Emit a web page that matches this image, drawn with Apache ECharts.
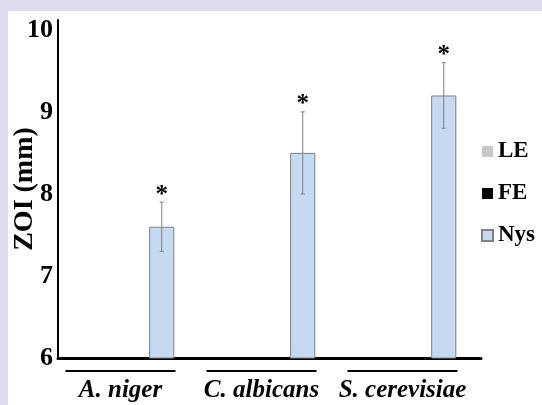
<!DOCTYPE html>
<html><head><meta charset="utf-8">
<script src="https://cdn.jsdelivr.net/npm/echarts@6/dist/echarts.min.js"></script>
<style>
html,body{margin:0;padding:0;}
#outer{position:relative;width:542px;height:405px;background:#dcdcec;overflow:hidden;}
#chart{position:absolute;left:8px;top:11px;width:534px;height:394px;background:#ffffff;}
</style></head>
<body><div id="outer"><div id="chart"></div></div>
<script>
const categories = ['A. niger', 'C. albicans', 'S. cerevisiae'];
const seriesNames = ['LE', 'FE', 'Nys'];
const leValues = ['-', '-', '-'];
const feValues = ['-', '-', '-'];
const nysValues = [7.6, 8.5, 9.2];
const nysErrors = [0.3, 0.5, 0.4];
const yTicks = [6, 7, 8, 9, 10];

const SERIF = '"Liberation Serif", "DejaVu Serif", serif';
const CAT_GAP = 0.35, BAR_GAP = 0.32;

const chart = echarts.init(document.getElementById('chart'));
chart.setOption({
  animation: false,
  grid: { left: 50, right: 61, top: 9, bottom: 47, containLabel: false, outerBoundsMode: 'none' },
  legend: {
    orient: 'vertical', left: 468, top: 124, itemGap: 19,
    itemWidth: 11, itemHeight: 11, icon: 'rect',
    textStyle: { fontFamily: SERIF, fontWeight: 'bold', fontSize: 23, color: '#000' },
    data: seriesNames
  },
  xAxis: {
    type: 'category', data: categories,
    axisLine: { lineStyle: { color: '#000', width: 3 } },
    axisTick: { show: false },
    axisLabel: {
      interval: 0, margin: 12,
      padding: [0, 16, 0, 0],
      formatter: v => '{u| }\n{t|' + v + '}',
      rich: {
        u: { width: 110, height: 2, lineHeight: 2, fontSize: 1, backgroundColor: '#000' },
        t: { fontFamily: SERIF, fontWeight: 'bold', fontStyle: 'italic', fontSize: 25, color: '#000', lineHeight: 30, padding: [7, 0, 0, 0] }
      }
    }
  },
  yAxis: {
    type: 'value', min: 6, max: 10.12, interval: 1,
    name: 'ZOI (mm)', nameLocation: 'middle', nameRotate: 90, nameGap: 19, nameMoveOverlap: false,
    nameTextStyle: { fontFamily: SERIF, fontWeight: 'bold', fontSize: 28, color: '#000' },
    axisLine: { show: true, lineStyle: { color: '#000', width: 2 } },
    axisTick: { show: false },
    splitLine: { show: false },
    axisLabel: {
      margin: 5,
      customValues: yTicks,
      fontFamily: SERIF, fontWeight: 'bold', fontSize: 26, color: '#000'
    }
  },
  series: [
    { name: 'LE', type: 'bar', data: leValues, barGap: (BAR_GAP * 100) + '%', barCategoryGap: (CAT_GAP * 100) + '%',
      itemStyle: { color: '#c8c8c8' } },
    { name: 'FE', type: 'bar', data: feValues, itemStyle: { color: '#000000' } },
    { name: 'Nys', type: 'bar', data: nysValues,
      itemStyle: { color: '#c5d9f1', borderColor: '#808080', borderWidth: 1 } },
    {
      type: 'custom', name: 'err', z: 5,
      data: categories.map((c, i) => [i, nysValues[i], nysErrors[i]]),
      renderItem: function (params, api) {
        const i = api.value(0), v = api.value(1), e = api.value(2);
        const band = api.size([1, 0])[0];
        const w = band * (1 - CAT_GAP) / (3 + 2 * BAR_GAP);
        const off = w * (1 + BAR_GAP);
        const t = api.coord([i, v + e]);
        const b = api.coord([i, v - e]);
        const x = t[0] + off;
        const st = { stroke: '#808080', lineWidth: 1 };
        return {
          type: 'group',
          children: [
            { type: 'line', shape: { x1: x, y1: t[1], x2: x, y2: b[1] }, style: st },
            { type: 'line', shape: { x1: x - 2, y1: t[1], x2: x + 2, y2: t[1] }, style: st },
            { type: 'line', shape: { x1: x - 2, y1: b[1], x2: x + 2, y2: b[1] }, style: st },
            { type: 'text', x: x, y: t[1] - 7, style: { text: '*', fontFamily: SERIF, fontWeight: 'bold', fontSize: 25, fill: '#000', align: 'center', verticalAlign: 'middle' } }
          ]
        };
      }
    }
  ]
});
</script></body></html>
